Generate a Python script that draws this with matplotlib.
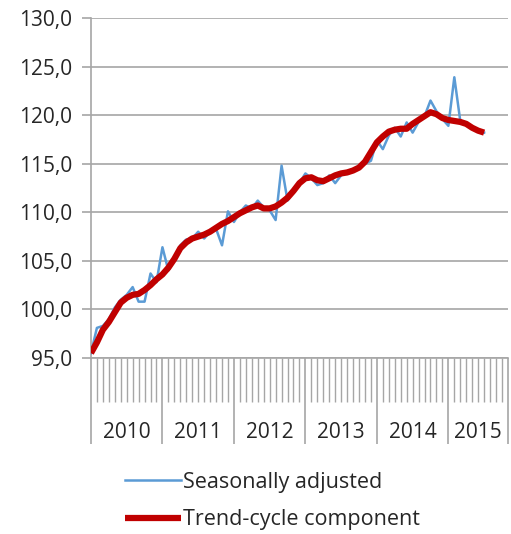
import matplotlib
matplotlib.use("Agg")
import matplotlib.pyplot as plt
from matplotlib.ticker import FuncFormatter, FixedLocator

plt.rcParams['font.family'] = ['Open Sans', 'DejaVu Sans']

# Monthly index values, Jan 2010 - Jul 2015
seasonally_adjusted = [
    95.5, 98.1, 98.3, 99.0, 100.2, 101.0, 101.5, 102.3, 100.8, 100.8, 103.7, 102.8,
    106.4, 104.0, 105.1, 106.6, 107.2, 107.3, 108.0, 107.3, 108.0, 108.3, 106.6, 110.1,
    109.0, 110.0, 110.7, 110.4, 111.2, 110.5, 110.2, 109.2, 114.8, 111.2, 112.2, 113.0,
    114.0, 113.5, 112.8, 113.0, 113.8, 113.0, 113.8, 114.1, 114.2, 114.5, 115.0, 115.3,
    117.4, 116.5, 117.9, 118.7, 117.8, 119.25, 118.2, 119.3, 119.9, 121.5, 120.4, 119.6,
    118.9, 123.9, 119.4, 119.25, 118.6, 118.3, 118.2,
]
trend_cycle = [
    95.5, 96.6, 97.9, 98.7, 99.7, 100.7, 101.2, 101.5, 101.6, 102.0, 102.5, 103.1,
    103.6, 104.3, 105.2, 106.3, 106.9, 107.3, 107.5, 107.7, 108.0, 108.4, 108.8, 109.1,
    109.5, 109.9, 110.2, 110.5, 110.7, 110.4, 110.4, 110.6, 111.0, 111.5, 112.2, 113.0,
    113.5, 113.6, 113.3, 113.2, 113.5, 113.8, 114.0, 114.1, 114.3, 114.6, 115.2, 116.2,
    117.2, 117.8, 118.3, 118.5, 118.6, 118.6, 119.1, 119.5, 119.9, 120.3, 120.1, 119.7,
    119.5, 119.4, 119.3, 119.1, 118.7, 118.4, 118.2,
]
years = ['2010', '2011', '2012', '2013', '2014', '2015']
year_starts = [0, 12, 24, 36, 48, 60]
n_slots = 70  # category slots on the axis
y_ticks = [95, 100, 105, 110, 115, 120, 125, 130]

grey = '#a6a6a6'
text_col = '#262626'
fs = 15

fig = plt.figure(figsize=(5.11, 5.34), dpi=100)
ax = fig.add_axes([0.178, 0.3296, 0.816, 0.6367])

x = list(range(len(seasonally_adjusted)))
ax.plot(x, seasonally_adjusted, color='#5b9bd5', lw=1.8, label='Seasonally adjusted',
        solid_joinstyle='round', zorder=3)
ax.plot(x, trend_cycle, color='#c00000', lw=4.5, label='Trend-cycle component',
        solid_joinstyle='round', solid_capstyle='butt', zorder=4)

ax.set_xlim(0, n_slots)
ax.set_ylim(95, 130)
ax.set_yticks(y_ticks)
ax.yaxis.set_major_formatter(FuncFormatter(lambda v, p: f'{v:.1f}'.replace('.', ',')))
ax.yaxis.grid(True, color=grey, lw=1.2)
ax.set_axisbelow(True)

for s in ['top', 'right']:
    ax.spines[s].set_visible(False)
for s in ['left', 'bottom']:
    ax.spines[s].set_color(grey)
    ax.spines[s].set_linewidth(1.2)

ax.tick_params(axis='y', length=6.5, width=1.2, color=grey, pad=7,
               labelsize=fs, labelcolor=text_col)

# month ticks and year separators
ax.xaxis.set_major_locator(FixedLocator(year_starts + [n_slots]))
ax.xaxis.set_minor_locator(FixedLocator(range(n_slots + 1)))
ax.tick_params(axis='x', which='major', length=62, width=1.2, color=grey, labelbottom=False)
ax.tick_params(axis='x', which='minor', length=31.5, width=1.0, color=grey)

bounds = year_starts + [n_slots]
for i, yr in enumerate(years):
    ax.text((bounds[i] + bounds[i + 1]) / 2, -0.218, yr, transform=ax.get_xaxis_transform(),
            ha='center', va='center', fontsize=fs, color=text_col)

fig.legend(loc='upper left', bbox_to_anchor=(0.2446, 0.117), frameon=False,
           fontsize=15.5, handlelength=2.6, handletextpad=0.1, labelspacing=0.78,
           borderpad=0, borderaxespad=0, labelcolor=text_col)

fig.savefig('out.png', dpi=100)
